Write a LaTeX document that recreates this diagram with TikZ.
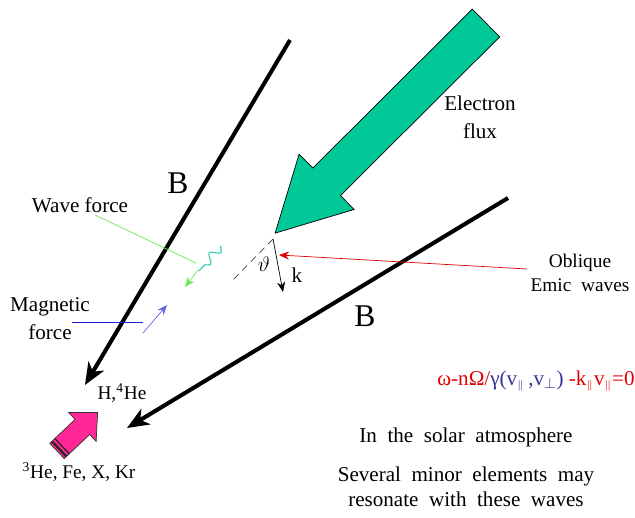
\documentclass[tikz,border=0pt]{standalone}
\usepackage{fontspec}
\usepackage{amssymb}
\usepackage{amsmath}
\setmainfont{Liberation Serif}
\usetikzlibrary{arrows.meta,decorations.pathmorphing,calc,positioning}
\definecolor{fluxcolor}{RGB}{0,200,150}
\definecolor{ioncolor}{RGB}{255,40,150}
\definecolor{wavecolor}{RGB}{110,230,80}
\definecolor{wigglecolor}{RGB}{40,205,170}
\definecolor{magcolor}{RGB}{30,30,220}
\definecolor{magarrow}{RGB}{100,100,230}
\definecolor{eqred}{RGB}{225,0,0}
\definecolor{eqblue}{RGB}{50,50,150}

\begin{document}
\begin{tikzpicture}[
        x=0.02cm, y=-0.02cm,
        lbl/.style={inner sep=0pt, font=\fontsize{12}{16}\selectfont, align=center},
        small/.style={inner sep=0pt, font=\fontsize{11}{14}\selectfont, align=center},
        bigB/.style={inner sep=0pt, font=\fontsize{18}{20}\selectfont},
        field/.style={line width=2.3pt, -{Stealth[length=4.4mm,width=3.6mm,inset=1.3mm]}},
        thin arrow/.style={thin, -{Stealth[length=2mm,width=1.6mm]}}
    ]
        \useasboundingbox (0,0) rectangle (635,517);

        % magnetic field lines
        \coordinate (b1top) at (290,40);
        \coordinate (b1tip) at (85,385);
        \coordinate (b2top) at (508,198);
        \coordinate (b2tip) at (127,428);
        \draw[field] (b1top) -- (b1tip);
        \draw[field] (b2top) -- (b2tip);
        \node[bigB] (Bleft) at (178,183) {B};
        \node[bigB] (Bright) at (365,316) {B};

        % electron flux
        \begin{scope}[shift={(486,23)}, rotate=224.9]
            \draw[fill=fluxcolor, draw=black, thin]
                (0,19.5) -- (225,19.5) -- (225,39) -- (297.7,0) -- (225,-39) -- (225,-19.5) -- (0,-19.5) -- cycle;
        \end{scope}
        \node[lbl] (flux) at (480,117) {Electron\\flux};

        % wave vector
        \coordinate (korig) at (273,239);
        \coordinate (kdash) at (232,281);
        \coordinate (ktip) at (283,292);
        \draw[thin, black!75, dash pattern=on 4pt off 3pt] (korig) -- (kdash);
        \draw[thin arrow] (korig) -- (ktip);
        \node[lbl] (theta) at (264,264) {$\vartheta$};
        \node[lbl] (klbl) at (297,275) {k};

        \node[small] (emic) at (580,273) {Oblique\\Emic\ \ waves};
        \coordinate (emicend) at (527,269);
        \coordinate (emictip) at (279,255);
        \draw[eqred, thin arrow] (emicend) -- (emictip);

        % forces on the ions
        \node[lbl] (wave) at (80,205) {Wave force};
        \coordinate (wavestart) at (95,215);
        \coordinate (waveend) at (196,263);
        \draw[wavecolor] (wavestart) -- (waveend);
        \coordinate (wigA) at (221,246);
        \coordinate (wigB) at (199,271);
        \draw[wigglecolor, semithick, decorate, decoration={snake, segment length=9, amplitude=2.5}] (wigA) -- (wigB);
        \coordinate (wfA) at (198,270);
        \coordinate (wfB) at (185,287);
        \draw[wavecolor, thin arrow] (wfA) -- (wfB);

        \node[lbl] (mag) at (50,319) {Magnetic\\force};
        \coordinate (magstart) at (72,322);
        \coordinate (magend) at (143,322);
        \draw[magcolor] (magstart) -- (magend);
        \coordinate (mfA) at (143,333);
        \coordinate (mfB) at (167,305);
        \draw[magarrow, thin arrow] (mfA) -- (mfB);

        % ions
        \node[small] (light) at (122,393) {H,\textsuperscript{4}He};
        \begin{scope}[shift={(57,451)}, rotate=43.5]
            \draw[fill=ioncolor, draw=black!80, thin]
                (0,10.5) -- (35,10.5) -- (35,20) -- (56,0) -- (35,-20) -- (35,-10.5) -- (0,-10.5) -- cycle;
            \draw[black!85, line width=1.3pt] (3,10.5) -- (3,-10.5);
            \draw[black!85, line width=0.7pt] (7,10.5) -- (7,-10.5);
        \end{scope}
        \node[small] (heavy) at (79,472) {\textsuperscript{3}He, Fe, X, Kr};

        % resonance condition
        \node[lbl] (reson) at (536,381) {\textcolor{eqred}{ω-nΩ/}\textcolor{eqblue}{γ(v$_{\scriptscriptstyle\parallel}$\,,v$_{\perp}$)}\ \textcolor{eqred}{-k$_{\scriptscriptstyle\parallel}$v$_{\scriptscriptstyle\parallel}$=0}};

        \node[lbl] (solar) at (466,437) {In\ \ the\ \ solar\ \ atmosphere};
        \node[lbl, font=\fontsize{12}{14.5}\selectfont] (minor) at (466,487) {Several\ \ minor\ \ elements\ \ may\\resonate\ \ with\ \ these\ \ waves};
    \end{tikzpicture}
\end{document}
